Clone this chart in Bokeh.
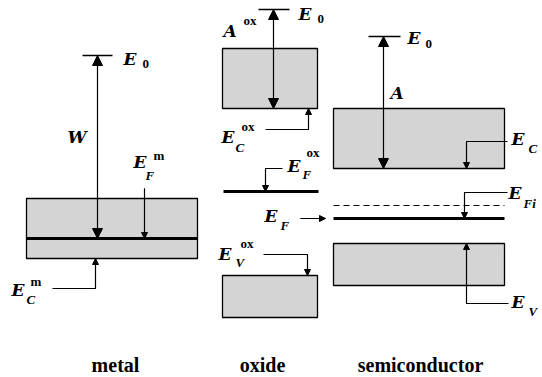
from bokeh.plotting import figure
from bokeh.models import Range1d, Arrow, NormalHead, ColumnDataSource
from bokeh.core.properties import value
from bokeh.embed import file_html
from bokeh.resources import INLINE

# ---- energy levels (drawing units, y grows downward) ----
# band boxes: metal band, oxide CB, oxide VB, semiconductor CB, semiconductor VB
box_left = [26, 222, 222, 333, 333]
box_right = [197, 317, 317, 504, 504]
box_top = [198, 48, 275, 108, 243]
box_bottom = [258, 108, 317, 168, 285]

# Fermi levels (thick lines): metal, oxide, semiconductor
fermi_x0 = [26, 223, 333]
fermi_x1 = [197, 318, 504]
fermi_y = [238, 191, 218]

# intrinsic Fermi level (dashed)
efi_x0 = [333]
efi_x1 = [504]
efi_y = [205]

# vacuum levels E0
e0_x0 = [82, 258, 368]
e0_x1 = [112, 289, 400]
e0_y = [55, 9, 36]

# double arrows: W, A^ox, A
darr_x = [97, 273, 383]
darr_y0 = [55, 9, 36]
darr_y1 = [238, 108, 168]

# label pointers: (x0,y0) -> (xc,yc) -> (x1,y1), head at (x1,y1)
ptr_x0 = [144, 52, 265, 282, 300, 263, 507, 507, 508]
ptr_y0 = [188, 288, 129, 168, 218, 254, 141, 192, 303]
ptr_xc = [144, 95, 308, 265, 300, 307, 466, 464, 466]
ptr_yc = [188, 288, 129, 168, 218, 254, 141, 192, 303]
ptr_x1 = [144, 95, 308, 265, 325, 307, 466, 464, 466]
ptr_y1 = [238, 258, 108, 191, 218, 275, 168, 218, 243]

# main symbols (baseline positions)
main_text = ["E", "W", "E", "E", "E", "A", "E", "E", "E", "E", "E", "A", "E", "E", "E"]
main_x = [123, 67, 133, 11, 298, 223, 221, 287, 264, 218, 407, 390, 511, 508, 511]
main_y = [65, 143, 168, 296, 20, 37, 143, 172, 222, 260, 44, 99, 145, 199, 308]

# italic subscripts
sub_text = ["F", "C", "C", "F", "F", "V", "C", "Fi", "V"]
sub_x = [145, 26, 235, 302, 280, 235, 528, 523, 528]
sub_y = [180, 304, 152, 179, 230, 267, 153, 208, 316]

# upright super/subscripts
sup_text = ["0", "m", "m", "0", "ox", "ox", "ox", "ox", "0"]
sup_x = [142, 153, 30, 317, 243, 241, 306, 240, 425]
sup_y = [68, 160, 286, 23, 25, 131, 157, 248, 48]

# material names
cat_text = ["metal", "oxide", "semiconductor"]
cat_x = [115, 262, 420]
cat_y = [372, 372, 372]

p = figure(width=542, height=377, output_backend="svg", toolbar_location=None,
           x_range=Range1d(0, 542), y_range=Range1d(377, 0),
           x_axis_location=None, y_axis_location=None, min_border=0)
p.outline_line_color = None
p.xgrid.visible = False
p.ygrid.visible = False

p.quad(left=box_left, right=box_right, top=box_top, bottom=box_bottom,
       fill_color="#d4d4d4", line_color="black", line_width=1.3)
p.segment(x0=fermi_x0, x1=fermi_x1, y0=fermi_y, y1=fermi_y,
          line_color="black", line_width=3)
p.segment(x0=efi_x0, x1=efi_x1, y0=efi_y, y1=efi_y,
          line_color="black", line_width=1, line_dash="6 4")
p.segment(x0=e0_x0, x1=e0_x1, y0=e0_y, y1=e0_y,
          line_color="black", line_width=1.3)

dsrc = ColumnDataSource(dict(x=darr_x, y0=darr_y0, y1=darr_y1))
p.add_layout(Arrow(x_start="x", y_start="y0", x_end="x", y_end="y1", source=dsrc,
                   line_width=1.2, line_color="black",
                   start=NormalHead(size=10, fill_color="black", line_color="black", line_width=1),
                   end=NormalHead(size=10, fill_color="black", line_color="black", line_width=1)))

p.multi_line(xs=[[a, b, c] for a, b, c in zip(ptr_x0, ptr_xc, ptr_x1)],
             ys=[[a, b, c] for a, b, c in zip(ptr_y0, ptr_yc, ptr_y1)],
             line_color="black", line_width=1.1)
psrc = ColumnDataSource(dict(x0=ptr_xc, y0=ptr_yc, x1=ptr_x1, y1=ptr_y1))
p.add_layout(Arrow(x_start="x0", y_start="y0", x_end="x1", y_end="y1", source=psrc,
                   line_width=1.1, line_color="black",
                   end=NormalHead(size=6, fill_color="black", line_color="black", line_width=1)))


def put(xs, ys, texts, size, style, font, align="left"):
    shift = 0.38 * size  # renderer places the alphabetic baseline slightly low
    p.text(x=xs, y=[y - shift for y in ys], text=texts, text_font=value(font),
           text_font_size=f"{size}px", text_font_style=style,
           text_baseline="alphabetic", text_align=align, text_color="black")


put(main_x, main_y, main_text, 17, "bold italic", "DejaVu Serif")
put(sub_x, sub_y, sub_text, 13, "bold italic", "serif")
put(sup_x, sup_y, sup_text, 13, "bold", "serif")
put(cat_x, cat_y, cat_text, 20, "bold", "serif", align="center")

open("out.html", "w").write(file_html(p, INLINE))
